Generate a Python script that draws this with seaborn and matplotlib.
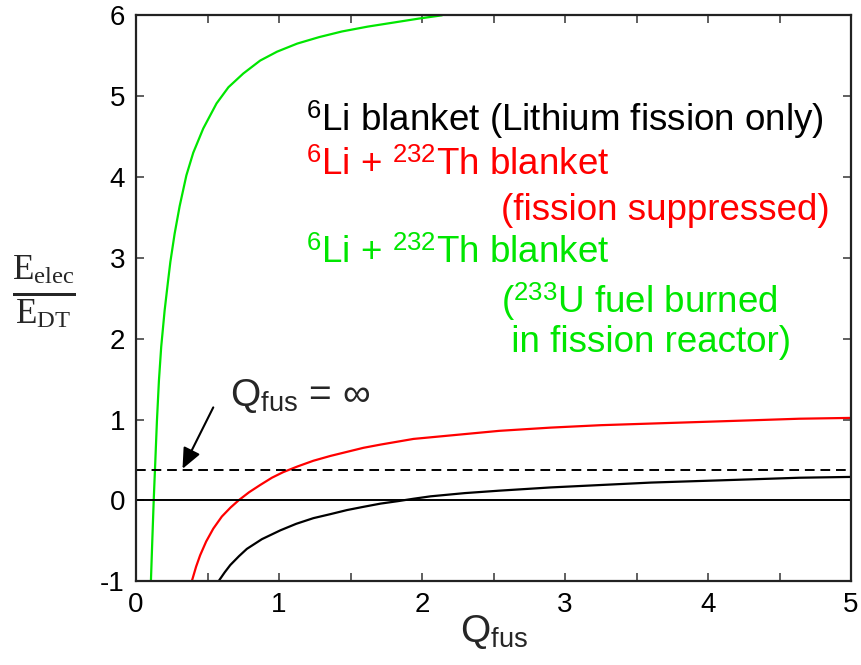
import numpy as np
import pandas as pd
import seaborn as sns
import matplotlib.pyplot as plt
from matplotlib.ticker import MultipleLocator

# values
q_black = [0.577, 0.62, 0.659, 0.72, 0.775, 0.88, 1.01, 1.12, 1.24, 1.36, 1.475, 1.59, 1.71, 1.83, 1.94,
           2.06, 2.3, 2.54, 2.9, 3.25, 3.6, 3.95, 4.3, 4.64, 5.0]
e_black = [-1.00, -0.89, -0.80, -0.69, -0.60, -0.48, -0.37, -0.29, -0.22, -0.17, -0.12, -0.08, -0.04, -0.01, 0.02,
           0.05, 0.09, 0.12, 0.16, 0.19, 0.22, 0.24, 0.26, 0.28, 0.29]

q_red = [0.39, 0.42, 0.448, 0.49, 0.54, 0.60, 0.66, 0.717, 0.79, 0.868, 0.95, 1.03, 1.13, 1.24, 1.36, 1.475,
         1.59, 1.71, 1.94, 2.06, 2.3, 2.54, 2.9, 3.25, 3.6, 3.95, 4.3, 4.64, 5.0]
e_red = [-1.00, -0.82, -0.68, -0.51, -0.35, -0.20, -0.09, 0.00, 0.10, 0.19, 0.28, 0.35, 0.42, 0.49, 0.55, 0.60,
         0.65, 0.69, 0.76, 0.78, 0.82, 0.86, 0.90, 0.93, 0.95, 0.97, 0.99, 1.01, 1.02]

q_green = [0.104, 0.114, 0.124, 0.134, 0.146, 0.16, 0.176, 0.20, 0.223, 0.24, 0.27, 0.305, 0.352, 0.40, 0.47,
           0.563, 0.646, 0.75, 0.868, 0.986, 1.127, 1.28, 1.44, 1.62, 1.8, 1.98, 2.14]
e_green = [-1.00, -0.48, 0.02, 0.45, 0.98, 1.48, 1.90, 2.35, 2.70, 2.95, 3.30, 3.64, 4.02, 4.30, 4.60,
           4.91, 5.11, 5.28, 5.44, 5.55, 5.65, 5.73, 5.80, 5.86, 5.91, 5.96, 6.00]

q_fus_inf = 0.37   # dashed level, Q_fus -> infinity

sns.set_theme(style='ticks')
plt.rcParams['font.family'] = ['Liberation Sans', 'DejaVu Sans']
plt.rcParams['axes.unicode_minus'] = False
plt.rcParams['mathtext.fontset'] = 'custom'
plt.rcParams['mathtext.rm'] = 'Liberation Serif'
plt.rcParams['mathtext.sf'] = 'Liberation Sans'
plt.rcParams['mathtext.it'] = 'Liberation Serif:italic'

fig = plt.figure(figsize=(8.61, 6.65), dpi=100)
ax = fig.add_axes([0.158, 0.126, 0.8305, 0.851])

curves = [(q_black, e_black, 'black'), (q_red, e_red, '#ff0000'), (q_green, e_green, '#00e600')]
for q, e, c in curves:
    df = pd.DataFrame({'Q': q, 'E': e})
    sns.lineplot(data=df, x='Q', y='E', color=c, lw=1.6, sort=False, estimator=None, ax=ax)

ax.axhline(0, color='black', lw=1.4)
ax.axhline(q_fus_inf, color='black', lw=1.4, ls=(0, (5, 3)))

ax.set_xlim(0, 5)
ax.set_ylim(-1, 6)
ax.xaxis.set_major_locator(MultipleLocator(1))
ax.xaxis.set_minor_locator(MultipleLocator(0.5))
ax.yaxis.set_major_locator(MultipleLocator(1))
ax.tick_params(which='both', direction='in', length=6, width=1.2, top=True, right=True,
               labelsize=20, colors='#444444', labelcolor='black', pad=8)
for s in ax.spines.values():
    s.set_linewidth(1.6)
    s.set_color('#222222')

ax.set_xlabel(r'Q$_{\mathsf{fus}}$', fontsize=28, labelpad=-4)
ax.set_ylabel(r'$\frac{\mathrm{E}_{\mathrm{elec}}}{\mathrm{E}_{\mathrm{DT}}}$', fontsize=36,
              rotation=0, va='center', ha='center')
ax.yaxis.set_label_coords(-0.129, 0.51)

ax.annotate('', xy=(0.325, 0.39), xytext=(0.54, 1.15),
            arrowprops=dict(arrowstyle='-|>,head_length=0.5,head_width=0.22', color='black',
                            lw=1.5, mutation_scale=25, shrinkA=0, shrinkB=0))
ax.text(0.655, 1.17, r'Q$_{\mathsf{fus}}$ = ∞', fontsize=28, va='baseline')

fs = 26.5
x1, x2 = 1.19, 2.55
ax.text(x1, 4.57, r'$^{\mathsf{6}}$Li blanket (Lithium fission only)', fontsize=fs, color='black')
ax.text(x1, 4.02, r'$^{\mathsf{6}}$Li + $^{\mathsf{232}}$Th blanket', fontsize=fs, color='#ff0000')
ax.text(x2, 3.47, '(fission suppressed)', fontsize=fs, color='#ff0000')
ax.text(x1, 2.93, r'$^{\mathsf{6}}$Li + $^{\mathsf{232}}$Th blanket', fontsize=fs, color='#00e600')
ax.text(x2, 2.32, r'($^{\mathsf{233}}$U fuel burned', fontsize=fs, color='#00e600')
ax.text(x2, 1.83, ' in fission reactor)', fontsize=fs, color='#00e600')

fig.savefig('out.png', dpi=100)
